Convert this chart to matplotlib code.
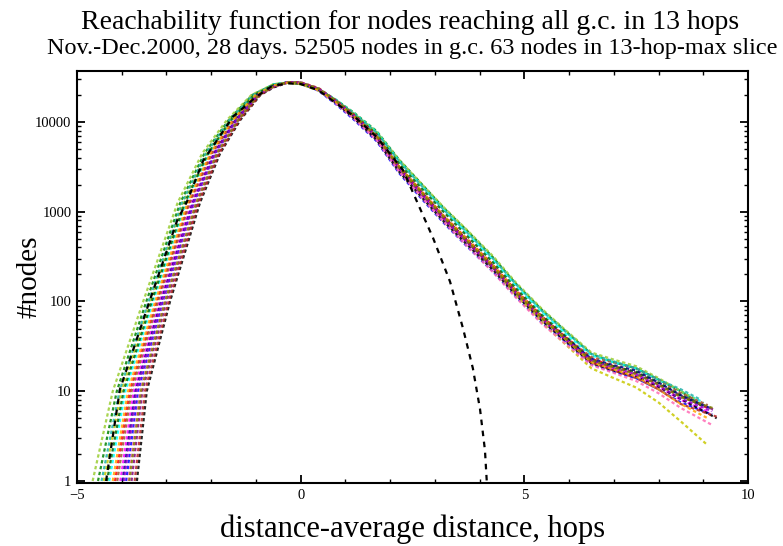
import matplotlib
matplotlib.use("Agg")
import matplotlib.pyplot as plt
from matplotlib.ticker import FixedLocator, FixedFormatter, LogLocator, NullFormatter

# levels (#nodes) where the rising left side of each curve was read
left_levels = [1, 10, 100, 1260, 4470, 10500, 20000]
# x positions of each curve at those levels
left_x = [
    [-4.15, -3.82, -3.22, -2.50, -2.00, -1.50, -1.00],
    [-4.53, -4.11, -3.45, -2.69, -2.15, -1.61, -1.08],
    [-3.90, -3.63, -3.07, -2.38, -1.90, -1.43, -0.95],
    [-4.03, -3.73, -3.15, -2.44, -1.95, -1.46, -0.98],
    [-4.28, -3.92, -3.30, -2.56, -2.05, -1.54, -1.03],
    [-3.66, -3.44, -2.92, -2.25, -1.80, -1.35, -0.90],
    [-4.40, -4.01, -3.37, -2.63, -2.10, -1.58, -1.05],
    [-3.78, -3.54, -3.00, -2.31, -1.85, -1.39, -0.93],
    [-4.65, -4.20, -3.52, -2.75, -2.20, -1.65, -1.10],
    [-4.10, -3.78, -3.19, -2.48, -1.98, -1.48, -0.99],
    [-3.85, -3.59, -3.04, -2.35, -1.88, -1.41, -0.94],
    [-4.33, -3.96, -3.33, -2.59, -2.07, -1.56, -1.04],
    [-3.98, -3.69, -3.12, -2.41, -1.93, -1.45, -0.97],
    [-3.71, -3.48, -2.95, -2.28, -1.82, -1.37, -0.91],
    [-4.45, -4.05, -3.40, -2.65, -2.12, -1.59, -1.06],
    [-3.95, -3.67, -3.10, -2.40, -1.92, -1.44, -0.96],
    [-4.20, -3.86, -3.25, -2.53, -2.02, -1.52, -1.01],
    [-3.83, -3.57, -3.03, -2.33, -1.87, -1.40, -0.94],
]

# right side: #nodes read at fixed distances
right_x = [-0.6, -0.3, 0.0, 0.4, 0.8, 1.2, 1.7, 2.2, 2.7, 3.2,
           3.7, 4.3, 4.8, 5.4, 5.9, 6.5, 7.0, 7.5, 8.0, 8.5]
right_n = [
    [25500, 27300, 26800, 23000, 16800, 11600, 7000, 3200, 1700, 900, 510, 255, 135, 68, 41, 23, 19, 16, 12, 8.8],
    [26300, 27500, 26500, 23000, 17500, 12600, 7900, 3800, 2050, 1100, 630, 310, 160, 80, 48, 26, 21, 18, 13.5, 10],
    [24500, 27500, 26800, 22300, 15600, 10500, 6100, 2700, 1400, 750, 420, 215, 115, 58, 36, 20, 16.5, 14, 10.5, 7.5],
    [25000, 27400, 26900, 22800, 16300, 11000, 6500, 2950, 1560, 830, 465, 235, 124, 62, 38, 21, 17.5, 15, 11.2, 8],
    [26200, 27600, 26900, 23400, 17600, 12400, 7800, 3700, 1980, 1060, 590, 290, 152, 76, 45, 25, 21, 18, 13.5, 10],
    [24300, 27300, 27300, 23000, 16200, 10900, 6300, 2800, 1460, 780, 440, 225, 120, 61, 37, 20.5, 17, 14.5, 11.2, 8.2],
    [26000, 27300, 26400, 22400, 16300, 11300, 6800, 3200, 1650, 880, 490, 240, 120, 58, 34, 18, 14, 11, 7.5, 4.6],
    [24800, 27700, 27600, 23600, 16900, 11500, 6700, 3000, 1560, 830, 470, 238, 128, 66, 40, 22, 18.5, 16, 12, 8.8],
    [26500, 27300, 26300, 22900, 17300, 12300, 7700, 3800, 2050, 1120, 640, 320, 165, 82, 49, 27, 22.5, 19, 14, 10],
    [25400, 27400, 26900, 22800, 16500, 11400, 6850, 3130, 1640, 880, 495, 250, 133, 67, 41, 24, 21, 18, 13.5, 9.5],
    [24600, 27400, 26900, 22600, 15900, 10800, 6300, 2800, 1450, 770, 425, 212, 112, 56, 34.5, 19.5, 16, 13, 9.5, 6.5],
    [25800, 27400, 26700, 22900, 16900, 11900, 7300, 3450, 1830, 990, 550, 272, 142, 70, 42, 22, 19, 16.5, 12.5, 9],
    [25200, 27600, 27100, 23100, 16800, 11600, 6900, 3140, 1650, 875, 488, 244, 129, 65, 40, 23, 19.5, 17, 12.5, 9],
    [24700, 27700, 27700, 23900, 17300, 12000, 7050, 3180, 1660, 880, 490, 246, 130, 65, 39, 21, 17, 14, 10.5, 7.2],
    [26100, 27500, 26700, 23200, 17300, 12200, 7600, 3650, 1950, 1050, 600, 300, 158, 78, 47, 26, 21.5, 18, 13.5, 10.5],
    [25100, 27700, 27300, 23300, 16900, 11700, 6900, 3100, 1620, 860, 480, 242, 127, 64, 39, 22, 18, 15.5, 11.5, 8.3],
    [25600, 27400, 26700, 22700, 16600, 11500, 6900, 3180, 1670, 890, 500, 250, 131, 65, 39, 21, 17.5, 14.5, 10.5, 7.2],
    [24900, 27700, 27500, 23600, 17100, 11800, 6950, 3140, 1640, 870, 485, 243, 128, 64, 39, 22, 18.5, 15.5, 11.8, 8.6],
]
end_x = [9.1, 8.95, 9.2, 9.15, 9.0, 9.3, 9.1, 9.25, 8.85, 9.1, 9.2, 9.0, 9.15, 9.3, 8.95, 9.2, 9.1, 9.25]
end_n = [6.5, 7, 5.5, 5.8, 7.5, 5, 2.5, 6.2, 8, 7, 4.2, 6.8, 6.5, 5.2, 8, 6, 5, 6.4]

colors = ['red', 'green', 'blue', 'magenta', 'cyan', 'black', '#c8c800', 'purple',
          'yellowgreen', '#a0522d', '#ff69b4', '#006400', 'navy', '#b22222',
          '#20b2aa', '#9400d3', 'orange', '#808000']

# the black dashed reference curve
ref_x = [-4.35, -4.04, -3.38, -2.76, -2.54, -2.18, -1.51, -1.0, -0.65, -0.3, 0.0, 0.4,
         1.2, 1.7, 2.29, 2.96, 3.34, 3.63, 3.85, 4.01, 4.12, 4.16]
ref_n = [1, 10.5, 100, 800, 1300, 3700, 11500, 19000, 25000, 27000, 26500, 22500,
         11500, 6800, 2900, 510, 166, 50, 18, 6.3, 2.2, 1]

xticks = [-5, 0, 5, 10]
yticks = [1, 10, 100, 1000, 10000]
ytick_labels = ['1', '10', '100', '1000', '10000']

plt.rcParams['font.family'] = ['Liberation Serif', 'DejaVu Serif']

fig = plt.figure(figsize=(7.83, 5.46), dpi=100)
ax = fig.add_axes([0.0983, 0.1154, 0.857, 0.7546])

for i in range(len(left_x)):
    xs = left_x[i] + right_x + [end_x[i]]
    ys = left_levels + right_n[i] + [end_n[i]]
    ax.plot(xs, ys, color=colors[i], lw=1.6, ls=(0, (1.5, 1.2)), alpha=0.85)

ax.plot(ref_x, ref_n, color='black', lw=1.6, ls=(0, (2.5, 2.5)), zorder=5)

ax.set_yscale('log')
ax.set_xlim(-5, 10)
ax.set_ylim(0.95, 37000)

ax.xaxis.set_major_locator(FixedLocator(xticks))
ax.xaxis.set_minor_locator(FixedLocator(range(-4, 10)))
ax.yaxis.set_major_locator(FixedLocator(yticks))
ax.yaxis.set_major_formatter(FixedFormatter(ytick_labels))
ax.yaxis.set_minor_locator(LogLocator(base=10, subs=range(2, 10)))
ax.yaxis.set_minor_formatter(NullFormatter())
ax.tick_params(which='major', direction='in', length=6, width=1.3, top=True, right=True,
               labelsize=10.5, pad=4)
ax.tick_params(which='minor', direction='in', length=3, width=1, top=True, right=True)
for s in ax.spines.values():
    s.set_linewidth(1.5)

ax.set_xlabel('distance-average distance, hops', fontsize=22, labelpad=9)
ax.set_ylabel('#nodes', fontsize=21)
ax.yaxis.set_label_coords(-0.052, 0.5)

fig.text(0.524, 0.958, 'Reachability function for nodes reaching all g.c. in 13 hops',
         ha='center', va='center', fontsize=20)
fig.text(0.526, 0.912, 'Nov.-Dec.2000, 28 days. 52505 nodes in g.c. 63 nodes in 13-hop-max slice',
         ha='center', va='center', fontsize=17.5)

fig.savefig('out.png', dpi=100)
